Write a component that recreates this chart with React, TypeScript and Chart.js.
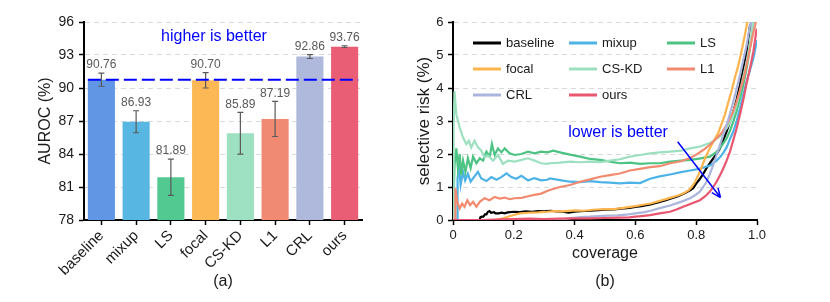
import React, { useEffect, useRef } from "react";
import { Chart, registerables } from "chart.js";
Chart.register(...registerables);

const FONT = "'Liberation Sans', Arial, Helvetica, sans-serif";

// ---------- panel (a) data ----------
const methods = ["baseline", "mixup", "LS", "focal", "CS-KD", "L1", "CRL", "ours"];
const aurocMean = [90.76, 86.93, 81.89, 90.7, 85.89, 87.19, 92.86, 93.76];
const aurocStd = [0.6, 1.0, 1.65, 0.7, 1.9, 1.6, 0.18, 0.08];
const aurocTicks = [78, 81, 84, 87, 90, 93, 96];
const barColors = ["#6096E4", "#58B6E3", "#52C990", "#FDB856", "#9DE0C2", "#F08A72", "#AEB9DC", "#EA5E75"];

// ---------- panel (b) data: [coverage, selective risk %] ----------
const lineColors = ["#000000", "#4DB3E6", "#4CC283", "#FDB44D", "#9DE0C0", "#F28A70", "#AAB4DC", "#E9566F"];
const coverageTicks = [0, 0.2, 0.4, 0.6, 0.8, 1.0];
const riskTicks = [0, 1, 2, 3, 4, 5, 6];

const riskBaseline = [
  [0.088, 0], [0.09, 0.08], [0.095, 0.1], [0.1, 0.1], [0.105, 0.17], [0.11, 0.17], [0.115, 0.25], [0.12, 0.27],
  [0.125, 0.22], [0.135, 0.24], [0.14, 0.2], [0.15, 0.2], [0.16, 0.22], [0.17, 0.2], [0.18, 0.23], [0.2, 0.25],
  [0.22, 0.24], [0.24, 0.26], [0.26, 0.25], [0.28, 0.27], [0.3, 0.26], [0.32, 0.28], [0.34, 0.26], [0.36, 0.25],
  [0.38, 0.22], [0.4, 0.25], [0.42, 0.27], [0.45, 0.28], [0.48, 0.3], [0.5, 0.31], [0.53, 0.32], [0.56, 0.35],
  [0.58, 0.37], [0.6, 0.4], [0.62, 0.42], [0.65, 0.47], [0.68, 0.55], [0.7, 0.6], [0.72, 0.66], [0.74, 0.72],
  [0.76, 0.8], [0.78, 0.9], [0.79, 0.96], [0.8, 1.1], [0.81, 1.22], [0.82, 1.35], [0.834, 1.57], [0.845, 1.72],
  [0.856, 1.87], [0.867, 2.0], [0.878, 2.17], [0.89, 2.45], [0.9, 2.68], [0.91, 2.95], [0.922, 3.28],
  [0.933, 3.65], [0.944, 4.09], [0.955, 4.6], [0.966, 5.1], [0.977, 5.9], [0.98, 6.2],
];
const riskMixup = [
  [0.012, 0], [0.014, 0], [0.015, 1.26], [0.02, 1.6], [0.025, 1.06], [0.033, 1.46], [0.04, 1.2], [0.049, 1.4],
  [0.058, 1.16], [0.069, 1.3], [0.082, 1.46], [0.093, 1.26], [0.11, 1.18], [0.126, 1.3], [0.143, 1.22],
  [0.159, 1.3], [0.176, 1.41], [0.192, 1.3], [0.208, 1.25], [0.225, 1.34], [0.247, 1.2], [0.268, 1.27],
  [0.29, 1.2], [0.31, 1.22], [0.319, 1.26], [0.352, 1.21], [0.385, 1.16], [0.418, 1.15], [0.451, 1.18],
  [0.484, 1.15], [0.516, 1.13], [0.549, 1.11], [0.582, 1.13], [0.615, 1.12], [0.648, 1.25], [0.68, 1.32],
  [0.714, 1.38], [0.75, 1.45], [0.78, 1.5], [0.81, 1.55], [0.845, 1.65], [0.865, 1.78], [0.878, 1.9],
  [0.89, 2.05], [0.9, 2.2], [0.911, 2.45], [0.922, 2.68], [0.933, 3.0], [0.944, 3.38], [0.955, 3.8],
  [0.966, 4.2], [0.977, 4.55], [0.988, 4.9], [1.0, 5.45],
];
const riskLS = [
  [0, 0], [0.002, 0], [0.005, 1.67], [0.011, 2.17], [0.016, 1.57], [0.022, 2.0], [0.027, 1.36], [0.033, 1.8],
  [0.041, 1.46], [0.049, 1.87], [0.058, 1.57], [0.066, 1.92], [0.077, 1.72], [0.088, 1.87], [0.099, 1.8],
  [0.11, 2.07], [0.121, 1.92], [0.128, 2.3], [0.137, 1.97], [0.148, 2.17], [0.159, 2.05], [0.17, 2.17],
  [0.186, 2.02], [0.203, 1.97], [0.225, 2.0], [0.247, 2.07], [0.268, 2.02], [0.29, 2.07], [0.31, 2.05],
  [0.33, 2.1], [0.352, 2.05], [0.385, 1.98], [0.418, 1.92], [0.451, 1.85], [0.484, 1.82], [0.516, 1.77],
  [0.549, 1.72], [0.582, 1.74], [0.615, 1.7], [0.648, 1.72], [0.68, 1.72], [0.714, 1.77], [0.75, 1.8],
  [0.78, 1.82], [0.81, 1.86], [0.845, 1.92], [0.865, 2.05], [0.878, 2.17], [0.9, 2.47], [0.911, 2.7],
  [0.922, 2.98], [0.933, 3.3], [0.944, 3.69], [0.955, 4.1], [0.966, 4.6], [0.975, 5.1], [0.983, 5.6],
  [0.988, 6.0], [0.99, 6.2],
];
const riskFocal = [
  [0.143, 0], [0.155, 0.03], [0.165, 0.05], [0.18, 0.1], [0.2, 0.15], [0.22, 0.2], [0.25, 0.22], [0.28, 0.23],
  [0.31, 0.25], [0.33, 0.27], [0.36, 0.26], [0.4, 0.29], [0.43, 0.28], [0.46, 0.31], [0.5, 0.33], [0.53, 0.33],
  [0.56, 0.37], [0.6, 0.42], [0.63, 0.47], [0.65, 0.5], [0.68, 0.58], [0.714, 0.67], [0.74, 0.74],
  [0.757, 0.8], [0.775, 0.9], [0.785, 1.0], [0.796, 1.15], [0.807, 1.36], [0.818, 1.6], [0.829, 1.87],
  [0.84, 2.08], [0.85, 2.27], [0.861, 2.45], [0.872, 2.63], [0.883, 2.9], [0.894, 3.18], [0.905, 3.55],
  [0.916, 3.9], [0.927, 4.3], [0.939, 4.7], [0.95, 5.15], [0.96, 5.6], [0.968, 6.0], [0.972, 6.3],
];
const riskCSKD = [
  [0.001, 0], [0.002, 2.8], [0.005, 3.9], [0.011, 3.2], [0.022, 2.8], [0.033, 2.5], [0.044, 2.3],
  [0.052, 2.4], [0.06, 2.2], [0.071, 2.4], [0.082, 2.2], [0.093, 2.1], [0.104, 1.9], [0.115, 1.95],
  [0.132, 1.8], [0.148, 1.97], [0.164, 1.7], [0.181, 1.8], [0.203, 1.77], [0.225, 1.82], [0.247, 1.87],
  [0.268, 1.8], [0.29, 1.72], [0.31, 1.7], [0.319, 1.72], [0.352, 1.74], [0.385, 1.77], [0.418, 1.75],
  [0.451, 1.77], [0.484, 1.75], [0.516, 1.8], [0.549, 1.84], [0.582, 1.92], [0.615, 1.97], [0.648, 2.02],
  [0.68, 2.05], [0.714, 2.07], [0.75, 2.1], [0.78, 2.17], [0.81, 2.22], [0.845, 2.33], [0.865, 2.45],
  [0.878, 2.53], [0.9, 2.78], [0.911, 2.95], [0.922, 3.18], [0.933, 3.5], [0.944, 3.9], [0.955, 4.35],
  [0.966, 4.8], [0.975, 5.25], [0.983, 5.7], [0.99, 6.1],
];
const riskL1 = [
  [0.005, 0], [0.007, 0], [0.008, 0.96], [0.014, 0.55], [0.022, 0.35], [0.03, 0.5], [0.038, 0.4],
  [0.047, 0.6], [0.056, 0.45], [0.066, 0.55], [0.077, 0.4], [0.088, 0.55], [0.104, 0.66], [0.12, 0.6],
  [0.137, 0.7], [0.154, 0.65], [0.17, 0.68], [0.186, 0.63], [0.203, 0.66], [0.225, 0.67], [0.247, 0.72],
  [0.268, 0.76], [0.29, 0.8], [0.31, 0.88], [0.319, 0.91], [0.352, 1.0], [0.385, 1.06], [0.418, 1.16],
  [0.451, 1.23], [0.484, 1.31], [0.516, 1.36], [0.549, 1.41], [0.582, 1.5], [0.615, 1.55], [0.648, 1.6],
  [0.68, 1.63], [0.714, 1.72], [0.75, 1.78], [0.78, 1.88], [0.8, 1.98], [0.823, 2.12], [0.845, 2.28],
  [0.856, 2.38], [0.87, 2.5], [0.883, 2.63], [0.9, 2.88], [0.911, 3.08], [0.922, 3.3], [0.933, 3.59],
  [0.944, 3.92], [0.956, 4.29], [0.966, 4.7], [0.977, 5.2], [0.986, 5.6], [0.994, 5.9], [1.0, 6.2],
];
const riskCRL = [
  [0.33, 0], [0.36, 0.02], [0.39, 0.06], [0.42, 0.09], [0.45, 0.1], [0.48, 0.12], [0.51, 0.13], [0.54, 0.14],
  [0.57, 0.16], [0.6, 0.2], [0.63, 0.24], [0.65, 0.28], [0.68, 0.36], [0.714, 0.44], [0.75, 0.55],
  [0.78, 0.66], [0.796, 0.75], [0.812, 0.86], [0.823, 1.0], [0.834, 1.16], [0.845, 1.4], [0.856, 1.67],
  [0.867, 1.97], [0.878, 2.27], [0.889, 2.58], [0.9, 2.88], [0.911, 3.22], [0.922, 3.59], [0.933, 3.98],
  [0.944, 4.39], [0.955, 4.85], [0.966, 5.3], [0.977, 5.9], [0.98, 6.1],
];
const riskOurs = [
  [0, 0], [0.1, 0], [0.15, 0.02], [0.2, 0.03], [0.25, 0.04], [0.3, 0.03], [0.35, 0.04], [0.4, 0.05],
  [0.45, 0.05], [0.5, 0.06], [0.55, 0.07], [0.58, 0.08], [0.6, 0.1], [0.62, 0.12], [0.648, 0.15],
  [0.68, 0.2], [0.714, 0.25], [0.735, 0.32], [0.757, 0.4], [0.785, 0.5], [0.812, 0.6], [0.83, 0.72],
  [0.845, 0.86], [0.856, 1.0], [0.867, 1.16], [0.878, 1.35], [0.889, 1.56], [0.9, 1.8], [0.911, 2.07],
  [0.922, 2.42], [0.933, 2.78], [0.944, 3.2], [0.956, 3.69], [0.966, 4.15], [0.977, 4.6], [0.988, 5.1],
  [0.999, 5.8],
];
const riskSeries = [riskBaseline, riskMixup, riskLS, riskFocal, riskCSKD, riskL1, riskCRL, riskOurs];

const TEXT = "#1a1a1a";

function zeroPad(scale: any) {
  scale.paddingLeft = 0;
  scale.paddingRight = 0;
  scale.paddingTop = 0;
  scale.paddingBottom = 0;
}

const barExtras = {
  id: "barExtras",
  afterDatasetsDraw(chart: any) {
    const { ctx, scales } = chart;
    const x = scales.x;
    const y = scales.y;
    const meta = chart.getDatasetMeta(0);
    ctx.save();
    meta.data.forEach((bar: any, i: number) => {
      const cx = bar.x;
      const top = y.getPixelForValue(aurocMean[i] + aurocStd[i]);
      const bot = y.getPixelForValue(aurocMean[i] - aurocStd[i]);
      ctx.strokeStyle = "#5a5a5a";
      ctx.lineWidth = 1.2;
      ctx.beginPath();
      ctx.moveTo(cx, top);
      ctx.lineTo(cx, bot);
      ctx.moveTo(cx - 3, top);
      ctx.lineTo(cx + 3, top);
      ctx.moveTo(cx - 3, bot);
      ctx.lineTo(cx + 3, bot);
      ctx.stroke();
      ctx.fillStyle = "#595959";
      ctx.font = `12px ${FONT}`;
      ctx.textAlign = "center";
      ctx.textBaseline = "bottom";
      ctx.fillText(aurocMean[i].toFixed(2), cx, top - 2);
    });
    const first = meta.data[0];
    const last = meta.data[meta.data.length - 1];
    const yy = y.getPixelForValue(aurocMean[0]);
    ctx.setLineDash([13, 5]);
    ctx.strokeStyle = "#0000ff";
    ctx.lineWidth = 2;
    ctx.beginPath();
    ctx.moveTo(first.x - first.width / 2, yy);
    ctx.lineTo(last.x + last.width / 2, yy);
    ctx.stroke();
    ctx.setLineDash([]);
    ctx.fillStyle = "#0000ff";
    ctx.font = `16px ${FONT}`;
    ctx.textAlign = "center";
    ctx.textBaseline = "middle";
    ctx.fillText("higher is better", x.getPixelForValue(3.24), y.getPixelForValue(94.68));
    ctx.restore();
  },
};

const lineExtras = {
  id: "lineExtras",
  afterDraw(chart: any) {
    const { ctx, chartArea, scales } = chart;
    const x = scales.x;
    const y = scales.y;
    ctx.save();
    // legend
    const cols = [20, 116, 214];
    const rows = [21, 47, 73];
    methods.forEach((m, i) => {
      const x0 = chartArea.left + cols[i % 3];
      const y0 = chartArea.top + rows[Math.floor(i / 3)];
      ctx.strokeStyle = lineColors[i];
      ctx.lineWidth = 3;
      ctx.beginPath();
      ctx.moveTo(x0, y0);
      ctx.lineTo(x0 + 28, y0);
      ctx.stroke();
      ctx.fillStyle = TEXT;
      ctx.font = `13px ${FONT}`;
      ctx.textAlign = "left";
      ctx.textBaseline = "middle";
      ctx.fillText(m, x0 + 33, y0);
    });
    // annotation
    ctx.fillStyle = "#0000ff";
    ctx.font = `16px ${FONT}`;
    ctx.textAlign = "center";
    ctx.textBaseline = "middle";
    ctx.fillText("lower is better", x.getPixelForValue(0.543), y.getPixelForValue(2.65));
    const x1 = x.getPixelForValue(0.739);
    const y1 = y.getPixelForValue(2.37);
    const x2 = x.getPixelForValue(0.88);
    const y2 = y.getPixelForValue(0.68);
    ctx.strokeStyle = "#0000ff";
    ctx.lineWidth = 1.5;
    ctx.beginPath();
    ctx.moveTo(x1, y1);
    ctx.lineTo(x2, y2);
    const ang = Math.atan2(y2 - y1, x2 - x1);
    const hl = 10;
    ctx.moveTo(x2, y2);
    ctx.lineTo(x2 - hl * Math.cos(ang - 0.4), y2 - hl * Math.sin(ang - 0.4));
    ctx.moveTo(x2, y2);
    ctx.lineTo(x2 - hl * Math.cos(ang + 0.4), y2 - hl * Math.sin(ang + 0.4));
    ctx.stroke();
    ctx.restore();
  },
};

export default function App() {
  const refA = useRef<HTMLCanvasElement>(null);
  const refB = useRef<HTMLCanvasElement>(null);

  useEffect(() => {
    const chartA = new Chart(refA.current as HTMLCanvasElement, {
      type: "bar",
      data: {
        labels: methods,
        datasets: [
          {
            data: aurocMean,
            backgroundColor: barColors,
            barPercentage: 0.78,
            categoryPercentage: 1.0,
          },
        ],
      },
      options: {
        responsive: false,
        maintainAspectRatio: false,
        animation: false,
        devicePixelRatio: 1,
        layout: { padding: { left: 0, top: 22, right: 53, bottom: 0 } },
        plugins: { legend: { display: false }, tooltip: { enabled: false }, title: { display: false } },
        scales: {
          x: {
            offset: true,
            grid: { display: true, drawOnChartArea: false, drawTicks: true, tickLength: 5, tickColor: "#000", tickWidth: 1.5, offset: false },
            border: { display: true, color: "#000", width: 2 },
            ticks: { autoSkip: false, minRotation: 45, maxRotation: 45, color: TEXT, font: { family: FONT, size: 15 }, padding: 2 },
            title: { display: true, text: "(a)", color: TEXT, font: { family: FONT, size: 16 }, padding: { top: 0, bottom: 10.4 } },
            afterFit: (s: any) => { s.height = 82; zeroPad(s); },
          },
          y: {
            min: 78,
            max: 96,
            afterBuildTicks: (s: any) => { s.ticks = aurocTicks.map((v) => ({ value: v })); },
            grid: {
              color: (c: any) => (c.tick && c.tick.value === 78 ? "rgba(0,0,0,0)" : "#d9d9d9"),
              lineWidth: 1,
              tickColor: "#000",
              tickLength: 5,
              tickWidth: 1.5,
              tickBorderDash: [],
            },
            border: { display: true, color: "#000", width: 2, dash: [5, 4] },
            ticks: { color: TEXT, font: { family: FONT, size: 14 }, padding: 5 },
            title: { display: true, text: "AUROC (%)", color: TEXT, font: { family: FONT, size: 16 }, padding: { top: 36.4, bottom: 0 } },
            afterFit: (s: any) => { s.width = 84; zeroPad(s); },
          },
        },
      },
      plugins: [barExtras],
    } as any);

    const chartB = new Chart(refB.current as HTMLCanvasElement, {
      type: "line",
      data: {
        datasets: riskSeries.map((series, i) => ({
          label: methods[i],
          data: series.map(([cx, r]) => ({ x: cx, y: r })),
          borderColor: lineColors[i],
          backgroundColor: lineColors[i],
          borderWidth: 2.2,
          pointRadius: 0,
          tension: 0,
          fill: false,
          order: methods.length - i,
        })),
      },
      options: {
        responsive: false,
        maintainAspectRatio: false,
        animation: false,
        devicePixelRatio: 1,
        layout: { padding: { left: 0, top: 22, right: 73, bottom: 0 } },
        plugins: { legend: { display: false }, tooltip: { enabled: false }, title: { display: false } },
        scales: {
          x: {
            type: "linear",
            min: 0,
            max: 1,
            afterBuildTicks: (s: any) => { s.ticks = coverageTicks.map((v) => ({ value: v })); },
            grid: { display: true, drawOnChartArea: false, drawTicks: true, tickLength: 5, tickColor: "#000", tickWidth: 1.5 },
            border: { display: true, color: "#000", width: 2 },
            ticks: {
              color: TEXT,
              font: { family: FONT, size: 13 },
              padding: 3,
              maxRotation: 0,
              callback: (v: any) => (Number(v) === 0 ? "0" : Number(v).toFixed(1)),
            },
            title: {
              display: true,
              text: ["coverage", "(b)"],
              color: TEXT,
              font: { family: FONT, size: 16, lineHeight: 1.75 },
              padding: { top: 0, bottom: 6 },
            },
            afterFit: (s: any) => { s.height = 82; zeroPad(s); },
          },
          y: {
            min: 0,
            max: 6,
            afterBuildTicks: (s: any) => { s.ticks = riskTicks.map((v) => ({ value: v })); },
            grid: {
              color: (c: any) => (c.tick && c.tick.value === 0 ? "rgba(0,0,0,0)" : "#d9d9d9"),
              lineWidth: 1,
              tickColor: "#000",
              tickLength: 5,
              tickWidth: 1.5,
              tickBorderDash: [],
            },
            border: { display: true, color: "#000", width: 2, dash: [5, 4] },
            ticks: { color: TEXT, font: { family: FONT, size: 13 }, padding: 4.5 },
            title: { display: true, text: "selective risk (%)", color: TEXT, font: { family: FONT, size: 17 }, padding: { top: 13.8, bottom: 0 } },
            afterFit: (s: any) => { s.width = 53; zeroPad(s); },
          },
        },
      },
      plugins: [lineExtras],
    } as any);

    return () => {
      chartA.destroy();
      chartB.destroy();
    };
  }, []);

  return (
    <div style={{ position: "absolute", left: 0, top: 0, width: 830, height: 302, background: "#fff" }}>
      <canvas ref={refA} width={415} height={302} style={{ position: "absolute", left: 0, top: 0, width: 415, height: 302 }} />
      <canvas ref={refB} width={430} height={302} style={{ position: "absolute", left: 400, top: 0, width: 430, height: 302 }} />
    </div>
  );
}
